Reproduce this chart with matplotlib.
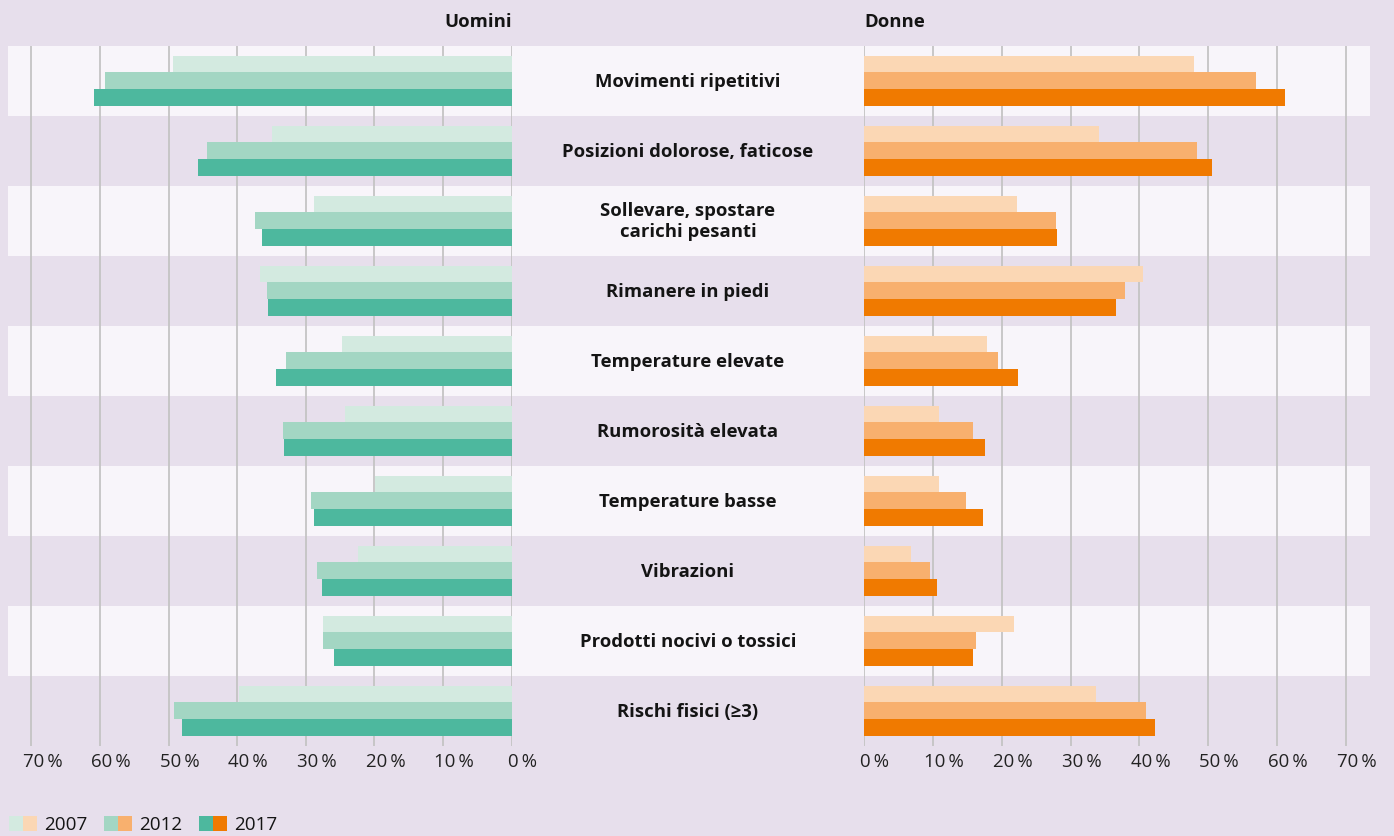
import matplotlib.pyplot as plt
import matplotlib.transforms as mtransforms
from matplotlib.patches import Rectangle

plt.rcParams['font.family'] = ['Open Sans', 'DejaVu Sans']

categorie = ['Movimenti ripetitivi', 'Posizioni dolorose, faticose',
             'Sollevare, spostare\ncarichi pesanti', 'Rimanere in piedi',
             'Temperature elevate', 'Rumorosità elevata', 'Temperature basse',
             'Vibrazioni', 'Prodotti nocivi o tossici', 'Rischi fisici (≥3)']
anni = ['2007', '2012', '2017']

# valori in %
uomini_2007 = [49.4, 34.9, 28.8, 36.7, 24.7, 24.3, 19.9, 22.4, 27.5, 39.8]
uomini_2012 = [59.3, 44.4, 37.4, 35.6, 32.9, 33.3, 29.3, 28.4, 27.5, 49.2]
uomini_2017 = [60.9, 45.7, 36.4, 35.5, 34.4, 33.2, 28.8, 27.7, 25.9, 48.0]
donne_2007 = [48.0, 34.1, 22.2, 40.5, 17.9, 10.9, 10.9, 6.8, 21.8, 33.7]
donne_2012 = [56.9, 48.4, 27.9, 37.9, 19.4, 15.8, 14.8, 9.6, 16.3, 41.0]
donne_2017 = [61.1, 50.5, 28.1, 36.6, 22.4, 17.6, 17.3, 10.6, 15.9, 42.3]

col_uomini = ['#d3eae0', '#a3d6c3', '#4db89e']
col_donne = ['#fbd7b4', '#f8b06e', '#f07a00']
testo = '#141414'

W, H = 1394, 837
fig = plt.figure(figsize=(W / 100, H / 100), dpi=100)
fig.patch.set_facecolor('#e7dfec')

def fx(px):
    return px / W

def fy(py):
    return 1 - py / H

top, bottom = 46.7, 746.7
n = len(categorie)
ypos = list(range(n))

# bande bianche alternate
ax_bg = fig.add_axes([fx(8), fy(bottom), fx(1370 - 8), (bottom - top) / H])
ax_bg.set_xlim(0, 1)
ax_bg.set_ylim(n - 0.5, -0.5)
for i in range(0, n, 2):
    ax_bg.axhspan(i - 0.5, i + 0.5, color='#f8f5fa', lw=0)
ax_bg.axis('off')

ax_l = fig.add_axes([fx(8), fy(bottom), fx(511.7 - 8), (bottom - top) / H])
ax_r = fig.add_axes([fx(864), fy(bottom), fx(1370 - 864), (bottom - top) / H])

h = 0.238
offs = [-h, 0, h]
serie_u = [uomini_2007, uomini_2012, uomini_2017]
serie_d = [donne_2007, donne_2012, donne_2017]
for k in range(3):
    ax_l.barh([y + offs[k] for y in ypos], serie_u[k], height=h, color=col_uomini[k], lw=0)
    ax_r.barh([y + offs[k] for y in ypos], serie_d[k], height=h, color=col_donne[k], lw=0)

ax_l.set_xlim(73.4, 0)
ax_r.set_xlim(0, 73.5)
shift = mtransforms.ScaledTranslation(11 / 100, 0, fig.dpi_scale_trans)
for ax in (ax_l, ax_r):
    ax.set_ylim(n - 0.5, -0.5)
    ax.patch.set_visible(False)
    for s in ax.spines.values():
        s.set_visible(False)
    ax.set_yticks([])
    ticks = list(range(0, 71, 10))
    ax.set_xticks(ticks)
    ax.set_xticklabels([f'{t}\u2009%' for t in ticks], fontsize=13.4, color='#222222')
    ax.tick_params(axis='x', length=0, pad=4.5)
    for lab in ax.get_xticklabels():
        lab.set_transform(lab.get_transform() + shift)
    ax.grid(axis='x', color='#c4c4c4', lw=1.3)
    ax.set_axisbelow(True)

# etichette categorie al centro
tr = mtransforms.blended_transform_factory(fig.transFigure, ax_l.transData)
for y, c in zip(ypos, categorie):
    ax_l.text(fx(688), y, c, transform=tr, ha='center', va='center',
              fontsize=13.3, fontweight='bold', color=testo, linespacing=1.2)

fig.text(fx(511.5), fy(22), 'Uomini', ha='right', va='center', fontsize=13.3,
         fontweight='bold', color=testo)
fig.text(fx(864), fy(22), 'Donne', ha='left', va='center', fontsize=13.3,
         fontweight='bold', color=testo)

# legenda
x0 = 9
for k, anno in enumerate(anni):
    xs = x0 + k * 95
    fig.patches.append(Rectangle((fx(xs), fy(832)), fx(14), 15 / H,
                                 transform=fig.transFigure, color=col_uomini[k], lw=0))
    fig.patches.append(Rectangle((fx(xs + 14), fy(832)), fx(14), 15 / H,
                                 transform=fig.transFigure, color=col_donne[k], lw=0))
    fig.text(fx(xs + 35), fy(825), anno, ha='left', va='center', fontsize=13.6, color=testo)

fig.savefig('out.png', dpi=100, facecolor=fig.get_facecolor())
